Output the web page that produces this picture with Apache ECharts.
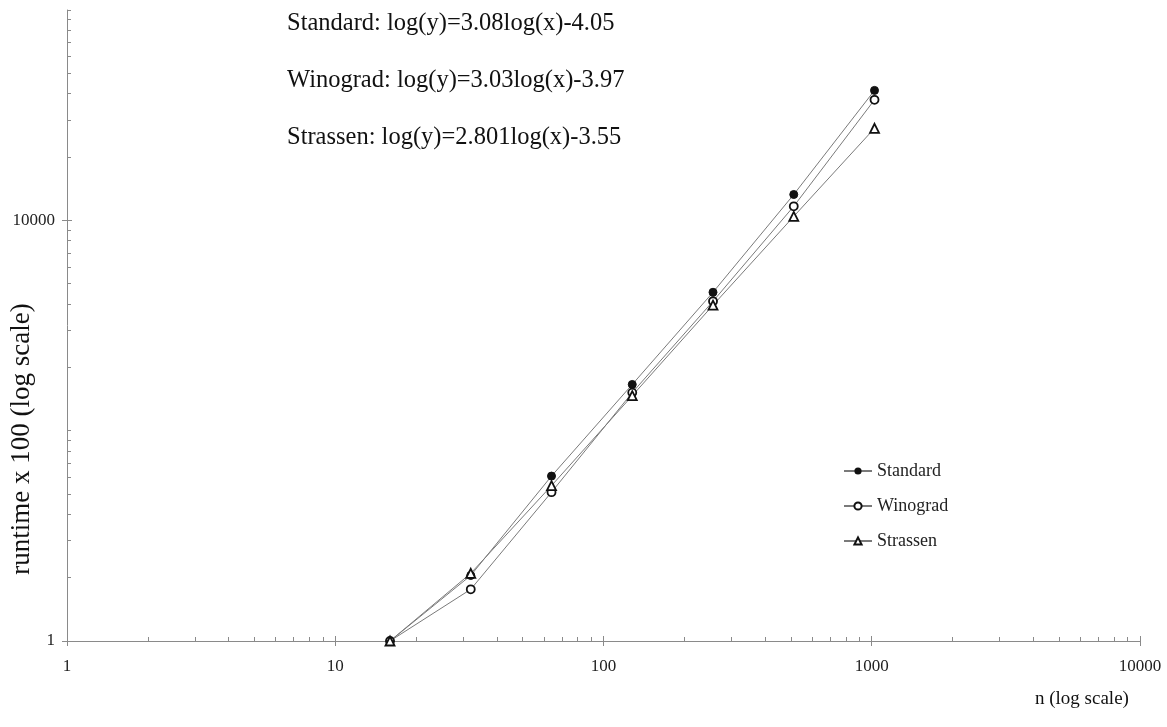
<!DOCTYPE html>
<html>
<head>
<meta charset="utf-8">
<script src="https://cdn.jsdelivr.net/npm/echarts@6/dist/echarts.min.js"></script>
<style>
	html, body { margin: 0; padding: 0; background: #fff; }
	#chart { width: 1167px; height: 727px; }
</style>
</head>
<body>
<div id="chart"></div>
<script>
// matrix size n
var sizes = [16, 32, 64, 128, 256, 512, 1024];
// runtime x 100
var standardData = [1, 4.2, 37, 275, 2070, 17600, 172000];
var winogradData = [1, 3.1, 26, 230, 1700, 13600, 140000];
var strassenData = [1, 4.4, 30, 215, 1560, 10900, 75000];

var xMajor = [1, 10, 100, 1000, 10000];
var xMinor = [2, 3, 4, 5, 6, 7, 8, 9, 20, 30, 40, 50, 60, 70, 80, 90,
	200, 300, 400, 500, 600, 700, 800, 900, 2000, 3000, 4000, 5000, 6000, 7000, 8000, 9000];
var yMajor = [1, 10000];
var yMinor = [4, 9, 16, 25, 36, 49, 64, 81, 100, 400, 900, 1600, 2500, 3600, 4900, 6400, 8100,
	40000, 90000, 160000, 250000, 360000, 490000, 640000, 810000, 1000000];

var fits = [
	'Standard: log(y)=3.08log(x)-4.05',
	'Winograd: log(y)=3.03log(x)-3.97',
	'Strassen: log(y)=2.801log(x)-3.55'
];

function pairs(ys) {
	var out = [];
	for (var i = 0; i < sizes.length; i++) out.push([sizes[i], ys[i]]);
	return out;
}

var font = 'Liberation Serif';
var axisGray = '#8a8a8a';
// plain numbers, no thousands separator
var plain = function(v) { return String(Math.round(v)); };

var chart = echarts.init(document.getElementById('chart'));

// one visible axis plus two bare ones just for the inner major / minor ticks
function xAxisOf(ticks, inside, len, showLine, showLabel) {
	return {
		type: 'log', logBase: 10, min: 1, max: 10000, position: 'bottom',
		axisLine: { show: showLine, onZero: false, lineStyle: { color: axisGray, width: 1 } },
		axisTick: { show: true, inside: inside, length: len, customValues: ticks,
			lineStyle: { color: axisGray, width: 1 } },
		axisLabel: { show: showLabel, customValues: xMajor, margin: 17, formatter: plain,
			fontFamily: font, fontSize: 17, color: '#222' },
		splitLine: { show: false }
	};
}
function yAxisOf(ticks, inside, len, showLine, showLabel) {
	return {
		type: 'log', logBase: 10, min: 1, max: 1000000, position: 'left',
		axisLine: { show: showLine, onZero: false, lineStyle: { color: axisGray, width: 1 } },
		axisTick: { show: true, inside: inside, length: len, customValues: ticks,
			lineStyle: { color: axisGray, width: 1 } },
		axisLabel: { show: showLabel, customValues: yMajor, margin: 12, formatter: plain,
			fontFamily: font, fontSize: 17, color: '#222' },
		splitLine: { show: false }
	};
}

var lineStyle = { color: '#7a7a7a', width: 1 };

var option = {
	animation: false,
	backgroundColor: '#fff',
	grid: { left: 67, right: 27, top: 10, bottom: 86 },
	xAxis: [
		xAxisOf(xMajor, false, 5, true, true),
		xAxisOf(xMajor, true, 5, false, false),
		xAxisOf(xMinor, true, 4, false, false)
	],
	yAxis: [
		yAxisOf(yMajor, false, 5, true, true),
		yAxisOf(yMajor, true, 5, false, false),
		yAxisOf(yMinor, true, 4, false, false)
	],
	legend: {
		orient: 'vertical',
		left: 838, top: 457,
		itemWidth: 28, itemHeight: 9, itemGap: 17,
		textStyle: { fontFamily: font, fontSize: 18, color: '#222' },
		data: ['Standard', 'Winograd', 'Strassen']
	},
	series: [
		{
			name: 'Standard', type: 'line', data: pairs(standardData),
			symbol: 'circle', symbolSize: 8,
			itemStyle: { color: '#111', borderColor: '#111' },
			lineStyle: lineStyle
		},
		{
			name: 'Winograd', type: 'line', data: pairs(winogradData),
			symbol: 'circle', symbolSize: 8,
			itemStyle: { color: '#fff', borderColor: '#111', borderWidth: 1.8 },
			lineStyle: lineStyle
		},
		{
			name: 'Strassen', type: 'line', data: pairs(strassenData),
			symbol: 'triangle', symbolSize: 9,
			itemStyle: { color: '#fff', borderColor: '#111', borderWidth: 1.8 },
			lineStyle: lineStyle
		}
	],
	graphic: [
		{ type: 'text', left: 287, top: 11, style: { text: fits[0], font: '24.5px ' + font, fill: '#111' } },
		{ type: 'text', left: 287, top: 68, style: { text: fits[1], font: '24.5px ' + font, fill: '#111' } },
		{ type: 'text', left: 287, top: 125, style: { text: fits[2], font: '24.5px ' + font, fill: '#111' } },
		{ type: 'text', left: 1035, top: 690, style: { text: 'n (log scale)', font: '19px ' + font, fill: '#111' } },
		{
			type: 'text', x: 22, y: 439, rotation: Math.PI / 2,
			style: { text: 'runtime x 100 (log scale)', font: '27px ' + font, fill: '#111',
				align: 'center', verticalAlign: 'middle' }
		}
	]
};

chart.setOption(option);
</script>
</body>
</html>
